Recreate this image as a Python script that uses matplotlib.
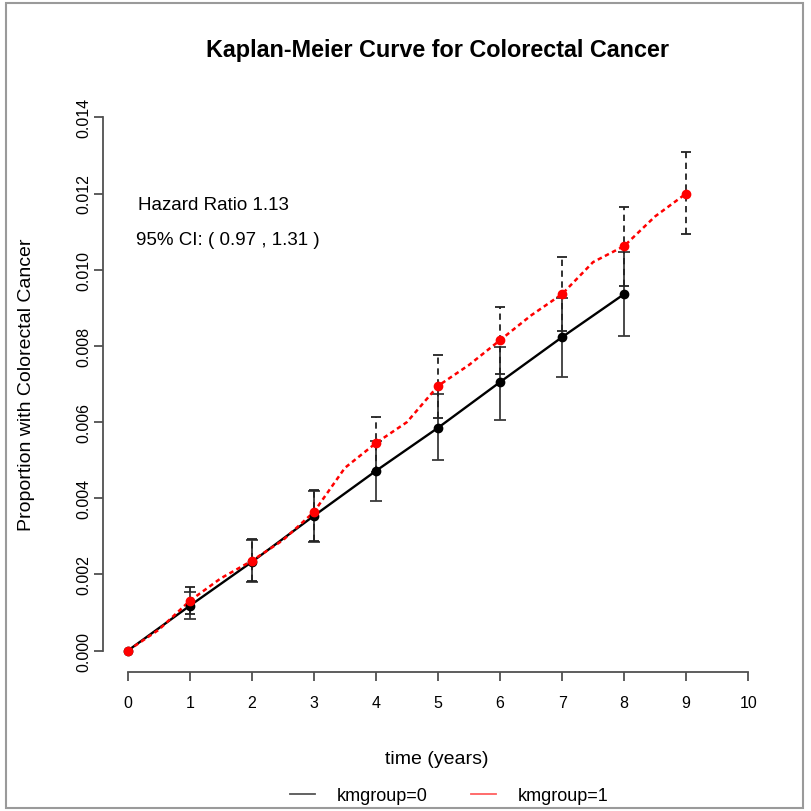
"""Kaplan-Meier cumulative incidence of colorectal cancer by kmgroup, with yearly 95% CIs."""

import numpy as np
import matplotlib
matplotlib.use("Agg")
from matplotlib import pyplot as plt
from matplotlib.lines import Line2D
from matplotlib.patches import Rectangle

# kmgroup=0: yearly estimates and confidence limits
TIME_0 = [0, 1, 2, 3, 4, 5, 6, 7, 8]
PROP_0 = [0.0, 0.00118, 0.00233, 0.00354, 0.00472, 0.00585, 0.00705, 0.00823, 0.00936]
LOWER_0 = [np.nan, 0.00082, 0.00181, 0.00286, 0.00393, 0.00500, 0.00606, 0.00718, 0.00826]
UPPER_0 = [np.nan, 0.00155, 0.00290, 0.00420, 0.00550, 0.00674, 0.00797, 0.00925, 0.01046]

# kmgroup=1: yearly estimates and confidence limits
TIME_1 = [0, 1, 2, 3, 4, 5, 6, 7, 8, 9]
PROP_1 = [0.0, 0.00131, 0.00236, 0.00364, 0.00545, 0.00695, 0.00815, 0.00936, 0.01062, 0.01200]
LOWER_1 = [np.nan, 0.00097, 0.00182, 0.00288, 0.00470, 0.00610, 0.00726, 0.00840, 0.00957, 0.01093]
UPPER_1 = [np.nan, 0.00168, 0.00294, 0.00421, 0.00613, 0.00776, 0.00902, 0.01033, 0.01164, 0.01308]

# kmgroup=1 curve at half-year resolution
CURVE_TIME_1 = [0, 0.5, 1, 1.5, 2, 2.5, 3, 3.5, 4, 4.5, 5, 5.5, 6, 6.5, 7, 7.5, 8, 8.5, 9]
CURVE_PROP_1 = [0.0, 0.00055, 0.00131, 0.00190, 0.00236, 0.00290, 0.00364, 0.00480, 0.00545,
                0.00600, 0.00695, 0.00750, 0.00815, 0.00880, 0.00936, 0.01020, 0.01062,
                0.01140, 0.01200]

HAZARD_RATIO = 1.13
HR_CI = (0.97, 1.31)

X_TICKS = list(range(0, 11))
Y_TICKS = [0.000, 0.002, 0.004, 0.006, 0.008, 0.010, 0.012, 0.014]

FONT = ["Liberation Sans", "DejaVu Sans"]
AXIS_GREY = "#505050"

plt.rcParams["font.family"] = FONT

fig = plt.figure(figsize=(8.11, 8.12), dpi=100)
W, H = 811, 812
ax = fig.add_axes([103 / W, 1 - 673 / H, (773 - 103) / W, (673 - 97) / H])

# R-style axis ranges: 4% padding around the data range
ax.set_xlim(-0.4, 10.4)
ax.set_ylim(-0.00056, 0.01456)

ax.plot(TIME_0, PROP_0, color="black", lw=1.7, zorder=3)
ax.plot(TIME_0, PROP_0, "o", color="black", ms=6, zorder=4)
ax.plot(CURVE_TIME_1, CURVE_PROP_1, color="red", lw=1.8, ls=(0, (1.8, 1.4)), zorder=3)
ax.plot(TIME_1, PROP_1, "o", color="red", ms=6, zorder=5)

t0 = np.array(TIME_0, dtype=float)
lo0, hi0 = np.array(LOWER_0), np.array(UPPER_0)
mid0 = (lo0 + hi0) / 2
eb0 = ax.errorbar(t0[1:], mid0[1:], yerr=((hi0 - lo0) / 2)[1:], fmt="none",
                  ecolor="#3a3a3a", elinewidth=1.3, capsize=4.5, capthick=1.3, zorder=2)

t1 = np.array(TIME_1, dtype=float)
lo1, hi1 = np.array(LOWER_1), np.array(UPPER_1)
mid1 = (lo1 + hi1) / 2
eb1 = ax.errorbar(t1[1:], mid1[1:], yerr=((hi1 - lo1) / 2)[1:], fmt="none",
                  ecolor="#222222", elinewidth=1.3, capsize=3.5, capthick=1.3, zorder=2)
for coll in eb1[2]:
    coll.set_linestyle((0, (3.5, 2.5)))

for side in ("top", "right"):
    ax.spines[side].set_visible(False)
ax.spines["left"].set_bounds(0, 0.014)
ax.spines["bottom"].set_bounds(0, 10)
for side in ("left", "bottom"):
    ax.spines[side].set_color(AXIS_GREY)
    ax.spines[side].set_linewidth(1.3)

ax.set_xticks(X_TICKS)
ax.set_yticks(Y_TICKS)
ax.set_yticklabels([f"{v:.3f}" for v in Y_TICKS], rotation=90, va="center")
ax.tick_params(axis="both", direction="out", length=6.5, width=1.3, color=AXIS_GREY,
               labelsize=11.5)
ax.tick_params(axis="x", pad=10)
ax.tick_params(axis="y", pad=2)

fig.text(437 / W, 1 - 50 / H, "Kaplan-Meier Curve for Colorectal Cancer",
         ha="center", va="center", fontsize=16.8, fontweight="bold")
fig.text(437 / W, 1 - 760 / H, "time (years)", ha="center", va="center", fontsize=14)
fig.text(27 / W, 1 - 385 / H, "Proportion with Colorectal Cancer", ha="center",
         va="center", rotation=90, fontsize=14)

ax.text(0.17, 0.0117, f"Hazard Ratio {HAZARD_RATIO:.2f}", ha="left", va="center",
        fontsize=13.5)
ax.text(0.14, 0.01078, f"95% CI: ( {HR_CI[0]:.2f} , {HR_CI[1]:.2f} )", ha="left",
        va="center", fontsize=13.5)

handles = [Line2D([], [], color="#555555", lw=1.3),
           Line2D([], [], color="#ff6060", lw=1.3)]
fig.legend(handles, ["kmgroup=0", "kmgroup=1"], loc="center",
           bbox_to_anchor=(449 / W, 1 - 797 / H), ncol=2, frameon=False, fontsize=13,
           handlelength=1.4, handletextpad=1.2, columnspacing=2.4)

# thin grey frame around the whole device region
fig.add_artist(Rectangle((6 / W, 3 / H), (803 - 6) / W, (808 - 3) / H,
                         transform=fig.transFigure, fill=False, edgecolor="#9a9a9a", lw=1.5))

fig.savefig("out.png", dpi=100)
